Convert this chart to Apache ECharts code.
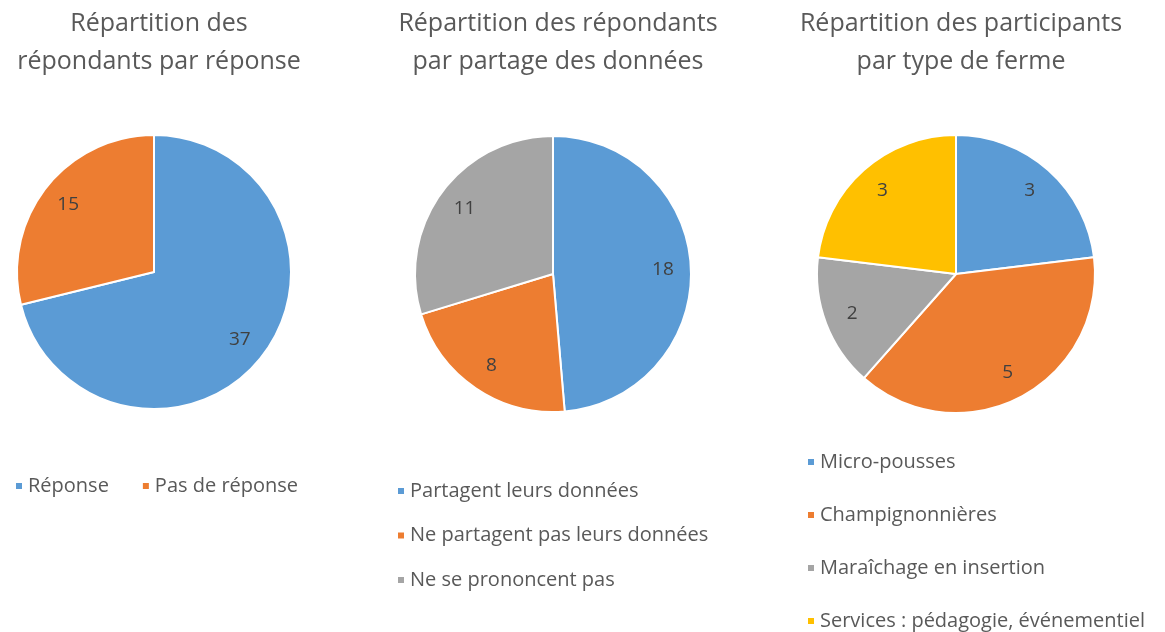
<!DOCTYPE html>
<html>
<head>
<meta charset="utf-8">
<script src="https://cdn.jsdelivr.net/npm/echarts@6/dist/echarts.min.js"></script>
<style>
  html, body { margin: 0; padding: 0; background: #fff; }
  #main { width: 1165px; height: 632px; }
</style>
</head>
<body>
<div id="main"></div>
<script>
// données des trois camemberts
var reponseNames = ["Réponse", "Pas de réponse"];
var reponseValues = [37, 15];

var partageNames = ["Partagent leurs données", "Ne partagent pas leurs données", "Ne se prononcent pas"];
var partageValues = [18, 8, 11];

var fermeNames = ["Micro-pousses", "Champignonnières", "Maraîchage en insertion", "Services : pédagogie, événementiel"];
var fermeValues = [3, 5, 2, 3];

var titles = [
  "Répartition des\nrépondants par réponse",
  "Répartition des répondants\npar partage des données",
  "Répartition des participants\npar type de ferme"
];

var palette = ["#5B9BD5", "#ED7D31", "#A5A5A5", "#FFC000"];
var font = "'Open Sans', sans-serif";

function toData(names, values) {
  return names.map(function (n, i) {
    return { name: n, value: values[i], itemStyle: { color: palette[i] } };
  });
}

function pie(names, values, center, r) {
  return [
    {
      type: "pie",
      center: center,
      radius: [0, r],
      startAngle: 90,
      clockwise: true,
      label: { show: false },
      labelLine: { show: false },
      itemStyle: { borderColor: "#fff", borderWidth: 2 },
      emphasis: { disabled: true },
      animation: false,
      data: toData(names, values)
    },
    {
      // anneau transparent pour placer les étiquettes près du bord
      type: "pie",
      center: center,
      radius: [r - 62, r],
      startAngle: 90,
      silent: true,
      legendHoverLink: false,
      label: {
        show: true,
        position: "inside",
        formatter: "{c}",
        color: "#404040",
        fontSize: 19,
        fontFamily: font
      },
      labelLine: { show: false },
      itemStyle: { color: "transparent", borderWidth: 0 },
      emphasis: { disabled: true },
      animation: false,
      data: names.map(function (n, i) { return { name: n, value: values[i] }; })
    }
  ];
}

var chart = echarts.init(document.getElementById("main"));

var titleStyle = { color: "#595959", fontSize: 25, fontWeight: "normal", fontFamily: font, lineHeight: 38 };
var legendText = { color: "#595959", fontSize: 20, fontFamily: font };

var option = {
  backgroundColor: "#fff",
  title: [
    { text: titles[0], left: 154, top: 0, textAlign: "center", textStyle: titleStyle },
    { text: titles[1], left: 553, top: 0, textAlign: "center", textStyle: titleStyle },
    { text: titles[2], left: 956, top: 0, textAlign: "center", textStyle: titleStyle }
  ],
  legend: [
    {
      data: reponseNames, orient: "horizontal", left: 14, top: 476, padding: 0,
      icon: "rect", itemWidth: 8, itemHeight: 8, itemGap: 32,
      textStyle: legendText
    },
    {
      data: partageNames, orient: "vertical", left: 396, top: 481, padding: 0,
      icon: "rect", itemWidth: 8, itemHeight: 8, itemGap: 24.5,
      textStyle: legendText
    },
    {
      data: fermeNames, orient: "vertical", left: 806, top: 452, padding: 0,
      height: 190,
      icon: "rect", itemWidth: 8, itemHeight: 8, itemGap: 33,
      textStyle: legendText
    }
  ],
  series: [].concat(
    pie(reponseNames, reponseValues, [154, 272], 137),
    pie(partageNames, partageValues, [553, 274], 138),
    pie(fermeNames, fermeValues, [956, 274], 139)
  )
};

chart.setOption(option);
</script>
</body>
</html>
